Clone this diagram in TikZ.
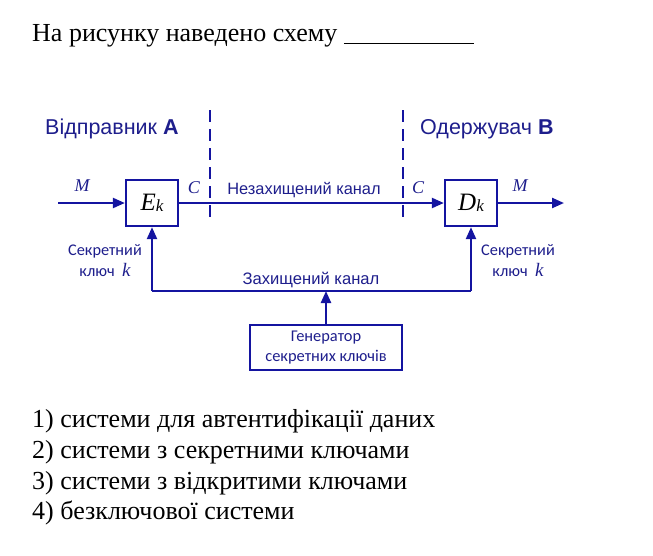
\documentclass[tikz,border=0pt]{standalone}
\usepackage{fontspec}
\setmainfont{Liberation Serif}
\newfontfamily\arialf{Liberation Sans}
\newfontfamily\calf{Carlito}
\usetikzlibrary{arrows.meta}
\definecolor{dblue}{RGB}{20,20,160}
\definecolor{tblue}{RGB}{30,30,140}
\begin{document}
\begin{tikzpicture}[x=1pt,y=-1pt,
  line/.style={draw=dblue,line width=2.3pt},
  conn/.style={line,-{Triangle[length=12pt,width=10pt]}},
  blk/.style={draw=dblue,line width=2.3pt,minimum width=52pt,minimum height=46pt,inner sep=0pt},
  genbox/.style={draw=dblue,line width=2.3pt,minimum width=152pt,minimum height=45pt,inner sep=0pt,align=center,font=\calf\fontsize{16.4}{20}\selectfont,text=tblue},
  lbl/.style={text=tblue,inner sep=0pt},
  mth/.style={text=tblue,inner sep=0pt,font=\itshape\fontsize{18}{18}\selectfont},
  dsh/.style={draw=dblue,line width=2.3pt,dash pattern=on 12pt off 7pt}]
\useasboundingbox (0,0) rectangle (653,555);
% title
\node[anchor=base west,inner sep=0pt,font=\fontsize{26}{26}\selectfont] (title) at (32,41) {На рисунку наведено схему \rule[-3pt]{130pt}{1pt}};
% headers
\node[lbl,anchor=base west,font=\arialf\fontsize{21.5}{21.5}\selectfont] (hA) at (45,134) {Відправник \textbf{A}};
\node[lbl,anchor=base west,font=\arialf\fontsize{21.5}{21.5}\selectfont] (hB) at (420,134) {Одержувач \textbf{B}};
% dashed lines
\coordinate (d1t) at (210,110); \coordinate (d1b) at (210,222);
\coordinate (d2t) at (403,110); \coordinate (d2b) at (403,222);
\draw[dsh] (d1t) -- (d1b);
\draw[dsh] (d2t) -- (d2b);
% blocks
\node[blk] (E) at (152,203) {\itshape\fontsize{25}{25}\selectfont E\raisebox{-1pt}{\fontsize{17}{17}\selectfont k}};
\node[blk] (D) at (471,203) {\itshape\fontsize{25}{25}\selectfont D\raisebox{-1pt}{\fontsize{17}{17}\selectfont k}};
\node[genbox] (G) at (326,347.5) {Генератор\\секретних ключів};
% coordinates
\coordinate (in) at (58,203);
\coordinate (out) at (564,203);
\coordinate (kl) at (152,291);
\coordinate (kr) at (471,291);
\coordinate (km) at (326,291);
% connectors
\draw[conn] (in) -- (E.west);
\draw[conn] (E.east) -- (D.west);
\draw[conn] (D.east) -- (out);
\draw[line] (kl) -- (kr);
\draw[conn] (kl) -- (E.south);
\draw[conn] (kr) -- (D.south);
\draw[conn] (G.north) -- (km);
% labels
\node[mth,anchor=base] (m1) at (82,191) {M};
\node[mth,anchor=base] (c1) at (194,193) {C};
\node[mth,anchor=base] (c2) at (418,193) {C};
\node[mth,anchor=base] (m2) at (520,191) {M};
\node[lbl,anchor=base,font=\arialf\fontsize{16.4}{16.4}\selectfont] (nz) at (304,194) {Незахищений канал};
\node[lbl,anchor=base,font=\arialf\fontsize{16.6}{16.6}\selectfont] (zk) at (311,284) {Захищений канал};
\node[lbl,anchor=base,font=\calf\fontsize{16.3}{16.3}\selectfont] (s1a) at (105,255) {Секретний};
\node[lbl,anchor=base,font=\calf\fontsize{16.3}{16.3}\selectfont] (s1b) at (105,276) {ключ\ \ {\fontspec{Liberation Serif}\itshape\fontsize{19}{19}\selectfont k}};
\node[lbl,anchor=base,font=\calf\fontsize{16.3}{16.3}\selectfont] (s2a) at (518,255) {Секретний};
\node[lbl,anchor=base,font=\calf\fontsize{16.3}{16.3}\selectfont] (s2b) at (518,276) {ключ\ \ {\fontspec{Liberation Serif}\itshape\fontsize{19}{19}\selectfont k}};
% answers
\node[anchor=base west,inner sep=0pt,font=\fontsize{26}{26}\selectfont] (a1) at (32,427) {1) системи для автентифікації даних};
\node[anchor=base west,inner sep=0pt,font=\fontsize{26}{26}\selectfont] (a2) at (32,458) {2) системи з секретними ключами};
\node[anchor=base west,inner sep=0pt,font=\fontsize{26}{26}\selectfont] (a3) at (32,489) {3) системи з відкритими ключами};
\node[anchor=base west,inner sep=0pt,font=\fontsize{26}{26}\selectfont] (a4) at (32,519) {4) безключової системи};
\end{tikzpicture}
\end{document}
